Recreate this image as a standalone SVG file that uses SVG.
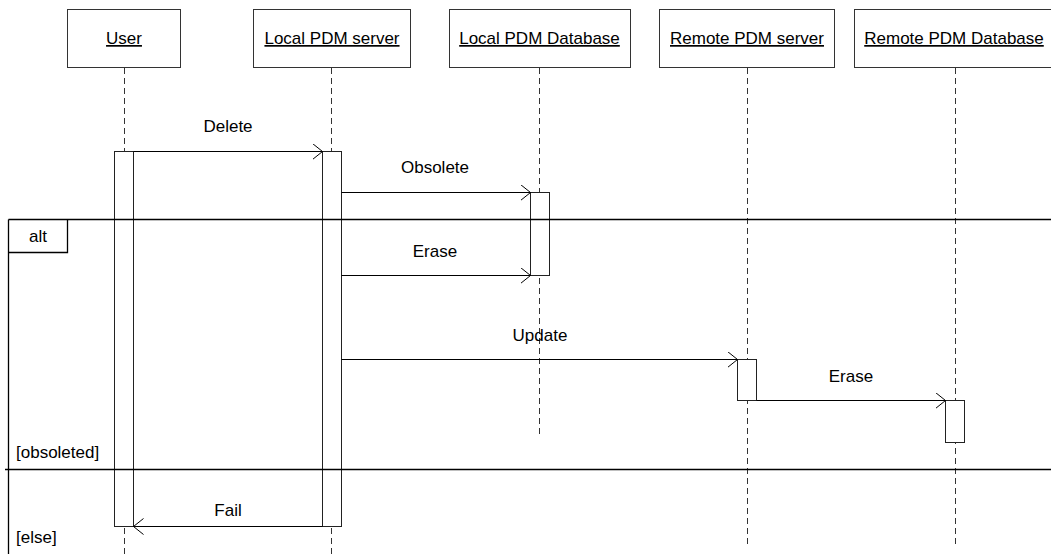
<svg xmlns="http://www.w3.org/2000/svg" width="1051" height="554" viewBox="0 0 1051 554">
<style>
  text { font-family: "Liberation Sans", Arial, sans-serif; font-size: 17px; fill: #000; }
  .lbl { text-anchor: middle; }
  .name { text-anchor: middle; text-decoration: underline; }
  .box { fill: #fff; stroke: #333; stroke-width: 1; }
  .life { stroke: #333; stroke-width: 1; stroke-dasharray: 6 4; fill: none; }
  .act { fill: #fff; stroke: #222; stroke-width: 1; }
  .msg { stroke: #000; stroke-width: 1; fill: none; }
  .frame { stroke: #000; stroke-width: 1.3; fill: none; }
</style>
<defs>
  <marker id="open" markerWidth="12" markerHeight="18" refX="10" refY="8" orient="auto" markerUnits="userSpaceOnUse">
    <path d="M0,0 L10,8 L0,16" fill="none" stroke="#000" stroke-width="1"/>
  </marker>
</defs>
<rect width="1051" height="554" fill="#fff"/>

<g id="lifelines">
  <line class="life" x1="124.5" y1="68" x2="124.5" y2="554"/>
  <line class="life" x1="331.5" y1="68" x2="331.5" y2="554"/>
  <line class="life" x1="539.5" y1="68" x2="539.5" y2="437"/>
  <line class="life" x1="747.5" y1="68" x2="747.5" y2="548"/>
  <line class="life" x1="955.5" y1="68" x2="955.5" y2="548"/>
</g>

<g id="user">
  <rect class="box" x="67.5" y="9.5" width="113" height="58"/>
  <text class="name" x="124" y="44">User</text>
  <rect class="act" x="114.5" y="151.5" width="19" height="375"/>
</g>
<g id="local-server">
  <rect class="box" x="253.5" y="9.5" width="157" height="58"/>
  <text class="name" x="332" y="44">Local PDM server</text>
  <rect class="act" x="322.5" y="151.5" width="19" height="375"/>
</g>
<g id="local-db">
  <rect class="box" x="449.5" y="9.5" width="181" height="58"/>
  <text class="name" x="539.5" y="44">Local PDM Database</text>
  <rect class="act" x="530.5" y="192.5" width="19" height="83"/>
</g>
<g id="remote-server">
  <rect class="box" x="659.5" y="9.5" width="175" height="58"/>
  <text class="name" x="747" y="44">Remote PDM server</text>
  <rect class="act" x="737.5" y="359.5" width="19" height="41"/>
</g>
<g id="remote-db">
  <rect class="box" x="854.5" y="9.5" width="202" height="58"/>
  <text class="name" x="954" y="44">Remote PDM Database</text>
  <rect class="act" x="945.5" y="400.5" width="19" height="42"/>
</g>

<g id="alt-frame">
  <line class="frame" x1="8.5" y1="219.5" x2="1051" y2="219.5"/>
  <line class="frame" x1="8.5" y1="219.5" x2="8.5" y2="554"/>
  <path class="frame" d="M8.5,252.5 H67.5 V219.5"/>
  <text class="lbl" x="38" y="242">alt</text>
  <line class="frame" x1="5" y1="469.5" x2="1051" y2="469.5"/>
  <text x="16" y="458">[obsoleted]</text>
  <text x="16" y="543">[else]</text>
</g>

<g id="connectors">
  <line class="msg" x1="133.5" y1="151.5" x2="322.5" y2="151.5" marker-end="url(#open)"/>
  <text class="lbl" x="228" y="132">Delete</text>
  <line class="msg" x1="341.5" y1="192.5" x2="530.5" y2="192.5" marker-end="url(#open)"/>
  <text class="lbl" x="435" y="173">Obsolete</text>
  <line class="msg" x1="341.5" y1="275.5" x2="530.5" y2="275.5" marker-end="url(#open)"/>
  <text class="lbl" x="435" y="257">Erase</text>
  <line class="msg" x1="341.5" y1="359.5" x2="737.5" y2="359.5" marker-end="url(#open)"/>
  <text class="lbl" x="540" y="341">Update</text>
  <line class="msg" x1="756.5" y1="400.5" x2="945.5" y2="400.5" marker-end="url(#open)"/>
  <text class="lbl" x="851" y="382">Erase</text>
  <line class="msg" x1="322.5" y1="526.5" x2="133.5" y2="526.5" marker-end="url(#open)"/>
  <text class="lbl" x="228" y="516">Fail</text>
</g>
</svg>
